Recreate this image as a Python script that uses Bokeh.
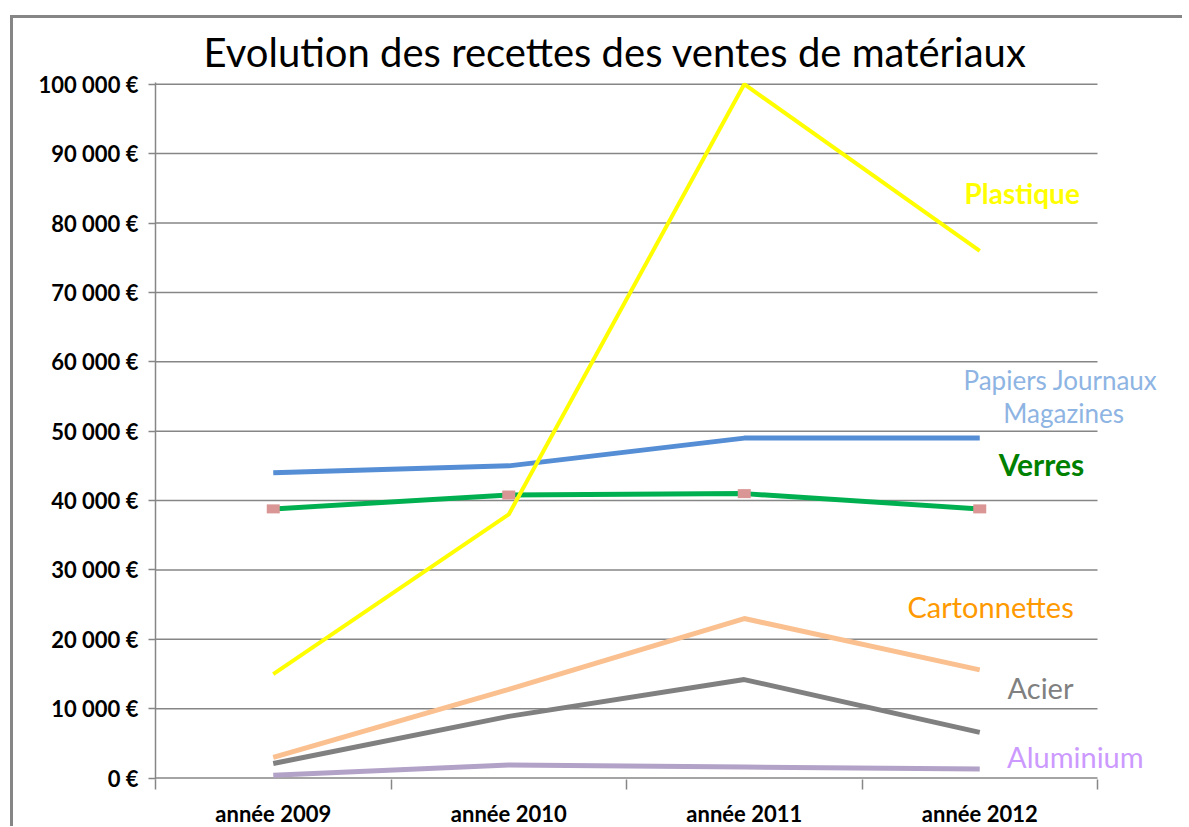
from bokeh.plotting import figure
from bokeh.models import Range1d, FixedTicker, Label
from bokeh.embed import file_html
from bokeh.resources import INLINE

years = ["année 2009", "année 2010", "année 2011", "année 2012"]
plastique = [15000, 38000, 100000, 76000]
papiers = [44000, 45000, 49000, 49000]
verres = [38800, 40800, 41000, 38800]
cartonnettes = [3000, 12800, 23000, 15600]
acier = [2100, 8900, 14200, 6600]
aluminium = [400, 1900, 1600, 1300]
y_ticks = list(range(0, 100001, 10000))

FONT = "Lato"
GRID = "#868686"
xs = [i + 0.5 for i in range(len(years))]
n = len(years)

W, H = 1172, 811
LEFT, TOP, BOTTOM = 142, 64, 46
frame_w = W - LEFT
p = figure(width=W, height=H, output_backend="svg", toolbar_location=None,
           x_range=Range1d(0, n * frame_w / 942), y_range=Range1d(-200, 100250),
           min_border_left=LEFT, min_border_right=0, min_border_top=TOP,
           min_border_bottom=BOTTOM)
p.margin = (15, 0, 0, 10)
p.styles = {"border-left": "3px solid #868686", "border-top": "3px solid #868686"}
p.outline_line_color = None
p.background_fill_color = "white"
p.border_fill_color = "white"

p.title.text = "Evolution des recettes des ventes de matériaux"
p.title.text_font = FONT
p.title.text_font_size = "40px"
p.title.text_font_style = "normal"
p.title.align = "left"
p.title.offset = 48
p.title.text_color = "black"
p.title.standoff = 14

# grid (drawn only across the category span)
p.xgrid.grid_line_color = None
p.ygrid.grid_line_color = None
p.segment(x0=0, x1=n, y0=y_ticks, y1=y_ticks, line_color=GRID, line_width=1.5)

# y axis
p.yaxis.ticker = FixedTicker(ticks=y_ticks)
p.yaxis.major_label_overrides = {v: f"{v:,}".replace(",", " ") + " €" for v in y_ticks}
p.yaxis.axis_line_color = GRID
p.yaxis.axis_line_width = 1.5
p.yaxis.major_tick_line_color = GRID
p.yaxis.major_tick_line_width = 1.5
p.yaxis.major_tick_out = 7
p.yaxis.major_tick_in = 0
p.yaxis.minor_tick_line_color = None
p.yaxis.major_label_text_font = FONT
p.yaxis.major_label_text_font_style = "bold"
p.yaxis.major_label_text_font_size = "22px"
p.yaxis.major_label_text_color = "black"
p.yaxis.major_label_standoff = 10

# x axis
bounds = list(range(n + 1))
p.xaxis.ticker = FixedTicker(ticks=xs, minor_ticks=bounds)
p.xaxis.major_label_overrides = {x: y for x, y in zip(xs, years)}
p.xaxis.axis_line_color = None
p.xaxis.major_tick_line_color = None
p.xaxis.major_tick_out = 10
p.xaxis.minor_tick_line_color = GRID
p.xaxis.minor_tick_line_width = 1.5
p.xaxis.minor_tick_out = 10
p.xaxis.minor_tick_in = 0
p.xaxis.major_label_text_font = FONT
p.xaxis.major_label_text_font_style = "bold"
p.xaxis.major_label_text_font_size = "22px"
p.xaxis.major_label_text_color = "black"
p.xaxis.major_label_standoff = 10

# series
p.line(xs, aluminium, line_color="#B3A2C7", line_width=5)
p.line(xs, acier, line_color="#808080", line_width=5)
p.line(xs, cartonnettes, line_color="#FAC090", line_width=5)
p.line(xs, papiers, line_color="#558ED5", line_width=5)
p.line(xs, verres, line_color="#00B050", line_width=5)
p.rect(xs, verres, width=13, height=9, width_units="screen", height_units="screen",
       fill_color="#D99694", line_color=None)
p.line(xs, plastique, line_color="#FFFF00", line_width=4)

labels = [
    ("Plastique", 3.68, 84300, "#FFFF00", "bold", "28px"),
    ("Papiers Journaux", 3.843, 57400, "#8EB4E3", "normal", "26px"),
    ("Magazines", 3.856, 52660, "#8EB4E3", "normal", "26px"),
    ("Verres", 3.762, 45300, "#008000", "bold", "30px"),
    ("Cartonnettes", 3.546, 24750, "#FF9900", "normal", "29px"),
    ("Acier", 3.758, 13100, "#808080", "normal", "29px"),
    ("Aluminium", 3.906, 3170, "#CC99FF", "normal", "29px"),
]
for t, lx, ly, c, st, sz in labels:
    p.add_layout(Label(x=lx, y=ly, text=t, text_color=c, text_font=FONT,
                       text_font_style=st, text_font_size=sz,
                       text_align="center", text_baseline="middle"))

open("out.html", "w").write(file_html(p, INLINE))
